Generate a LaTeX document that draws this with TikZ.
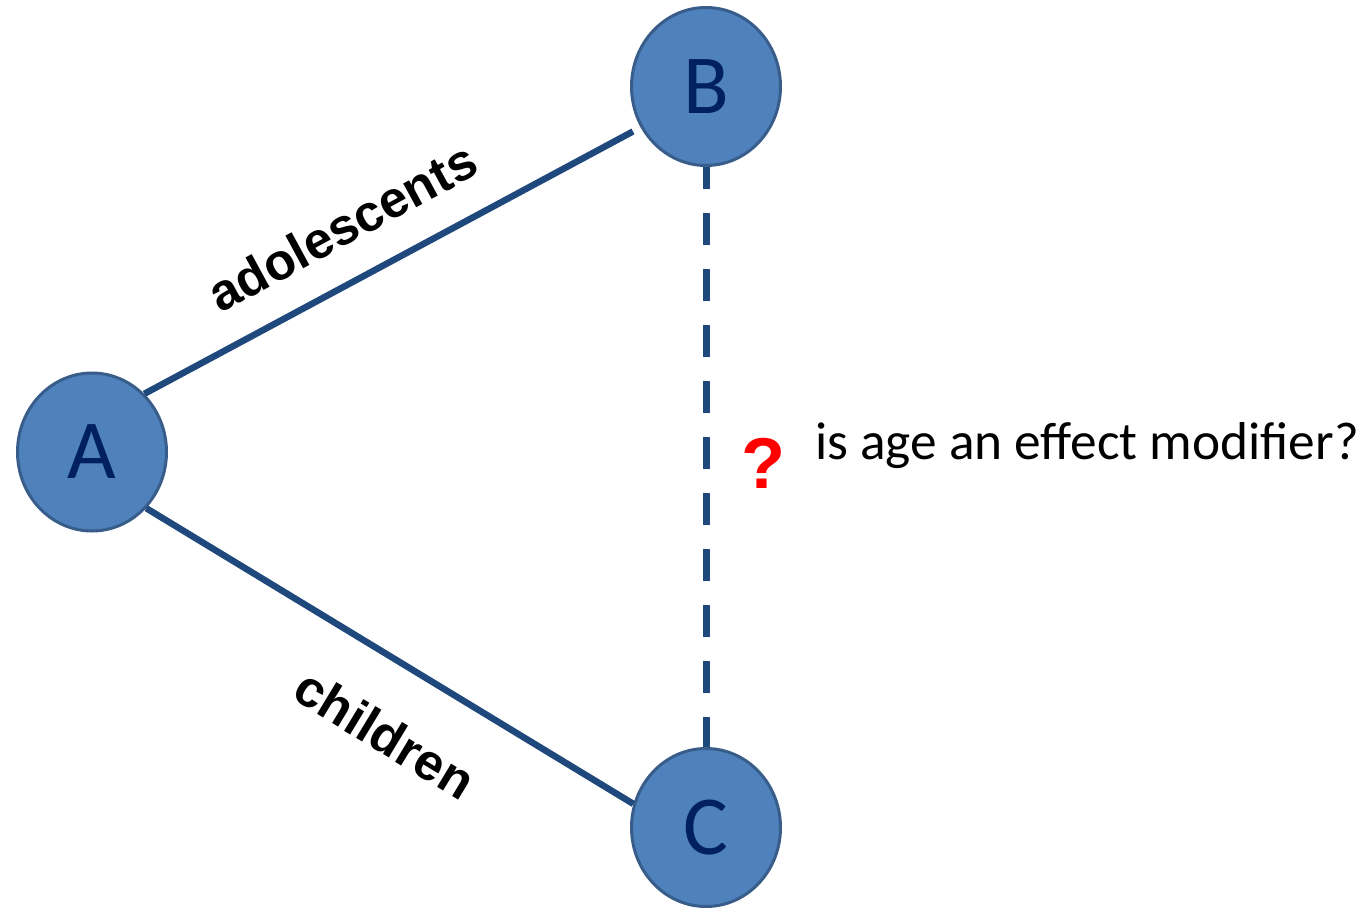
\documentclass[tikz,border=0pt]{standalone}
\usepackage{fontspec}
\setmainfont{Carlito}
\newfontfamily\labelfont{Liberation Sans}
\usetikzlibrary{shapes.geometric}
\definecolor{nodefill}{RGB}{79,129,189}
\definecolor{nodeedge}{RGB}{56,93,138}
\definecolor{edgeblue}{RGB}{31,73,125}
\definecolor{lettercol}{RGB}{0,32,96}
\newcommand\pxl{0.75pt}
\tikzset{
  vertex/.style={ellipse, fill=nodefill, draw=nodeedge, line width=3*\pxl,
    minimum width=149*\pxl, minimum height=158*\pxl, inner sep=0pt,
    text=lettercol, font=\fontsize{63}{63}\selectfont},
  edge/.style={draw=edgeblue, line width=6.5*\pxl},
  dashedge/.style={draw=edgeblue, line width=7*\pxl,
    dash pattern=on 32*\pxl off 24*\pxl, dash phase=10*\pxl},
  agelabel/.style={inner sep=0pt, font=\labelfont\bfseries\fontsize{38.5}{38.5}\selectfont},
}
\begin{document}
\begin{tikzpicture}[x=\pxl, y=-\pxl]
\useasboundingbox (0,0) rectangle (1371,907);
% three groups
\node[vertex] (A) at (92,452) {A};
\node[vertex] (B) at (706,86.5) {B};
\node[vertex] (C) at (706,827.5) {C};
% associations
\draw[edge, shorten >=8.6*\pxl] (A.48) -- (B.212);
\draw[edge] (A.-46.6) -- (C.162.4);
\draw[dashedge] (B.south) -- (C.north);
% edge labels
\node[agelabel, rotate=28.5] (adol) at (342,227) {adolescents};
\node[agelabel, rotate=-31.2] (chil) at (385,734) {children};
% question
\node[inner sep=0pt, anchor=base west, text=red,
  font=\labelfont\bfseries\fontsize{54}{54}\selectfont] (q) at (741,488) {?};
\node[inner sep=0pt, anchor=base west, font=\fontsize{40}{40}\selectfont]
  (qtext) at (815,459) {is age an effect modifier?};
\end{tikzpicture}
\end{document}
